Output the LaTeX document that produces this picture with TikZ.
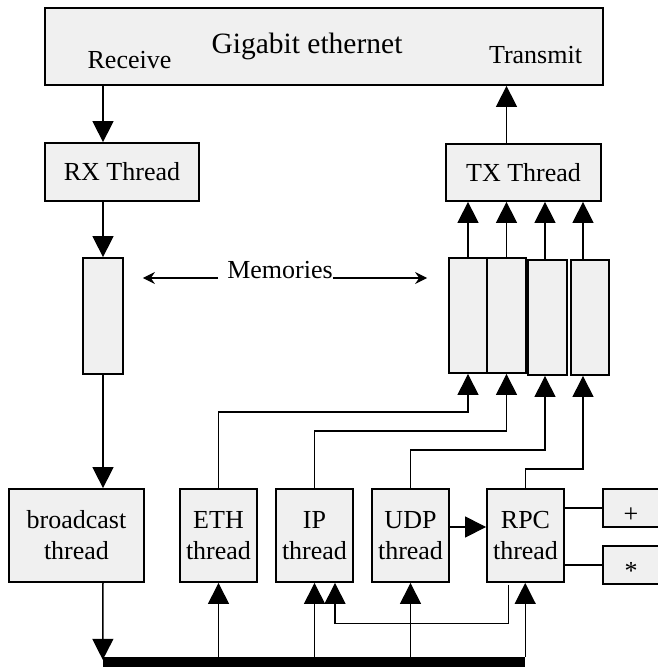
\documentclass[tikz,border=0pt]{standalone}
\usepackage{fontspec}
\setmainfont{Liberation Serif}
\usetikzlibrary{arrows.meta,calc}
\definecolor{boxfill}{RGB}{240,240,240}
\tikzset{
  box/.style={draw=black, line width=1.8pt, fill=boxfill, inner sep=0pt,
    font=\fontsize{26}{31}\selectfont, align=center},
  lbl/.style={inner sep=0pt, font=\fontsize{26}{31}\selectfont},
  big/.style={-{Triangle[length=21pt,width=21pt]}, line width=1.5pt},
  thinbig/.style={-{Triangle[length=21pt,width=21pt]}, line width=1.1pt},
  thin/.style={line width=1.1pt},
  marr/.style={-{Stealth[length=12pt,width=12pt,inset=4pt]}, line width=1.1pt}
}
\begin{document}
\begin{tikzpicture}[x=1pt,y=-1pt]
\useasboundingbox (0,0) rectangle (657,667);
% top box
\node[box, minimum width=558pt, minimum height=77pt] (gbe) at (324,46.5) {};
\node[lbl, anchor=base, font=\fontsize{29.5}{33}\selectfont] (title) at (307,53) {Gigabit ethernet};
\node[lbl, anchor=base] (recv) at (129.5,68) {Receive};
\node[lbl, anchor=base] (xmit) at (535.5,63) {Transmit};
% threads
\node[box, minimum width=154pt, minimum height=58pt] (rx) at (122,172) {RX Thread};
\node[box, minimum width=155pt, minimum height=57pt] (tx) at (523.5,172.5) {TX Thread};
% memories
\node[box, minimum width=40pt, minimum height=116pt] (memrx) at (103,316) {};
\node[box, minimum width=38pt, minimum height=115pt] (mem1) at (468,315.5) {};
\node[box, minimum width=39pt, minimum height=115pt] (mem2) at (506.5,315.5) {};
\node[box, minimum width=39pt, minimum height=115pt] (mem3) at (547.5,317.5) {};
\node[box, minimum width=38pt, minimum height=115pt] (mem4) at (590,317.5) {};
\coordinate (c3) at (545,0);
\coordinate (c4) at (583,0);
\node[lbl, anchor=base] (memtxt) at (280,278) {Memories};
% bottom row
\node[box, minimum width=135pt, minimum height=93pt] (bc) at (76.5,535.5) {broadcast\\thread};
\node[box, minimum width=77pt, minimum height=93pt] (ethT) at (218.5,535.5) {ETH\\thread};
\node[box, minimum width=77pt, minimum height=93pt] (ipT) at (314.5,535.5) {IP\\thread};
\node[box, minimum width=77pt, minimum height=93pt] (udpT) at (410.5,535.5) {UDP\\thread};
\node[box, minimum width=77pt, minimum height=93pt] (rpcT) at (525.5,535.5) {RPC\\thread};
\node[box, minimum width=56pt, minimum height=38pt, label={[lbl,yshift=-7pt]center:+}] (plus) at (631,508) {};
\node[box, minimum width=56pt, minimum height=38pt, label={[lbl,yshift=-6pt]center:*}] (star) at (631,565) {};
% bus
\node[fill=black, inner sep=0pt, minimum width=422pt, minimum height=10pt] (bus) at (314,662) {};
% receive path
\draw[big] (gbe.south -| memrx) -- (rx.north -| memrx);
\draw[big] (rx.south -| memrx) -- (memrx.north);
\draw[big] (memrx.south) -- (memrx.south |- bc.north);
\draw[big] (bc.south -| memrx) -- ($(bus.north west)+(0,3)$);
% transmit path
\draw[big] (tx.north -| mem2) -- (gbe.south -| mem2);
\draw[big] (mem1.north) -- (tx.south -| mem1);
\draw[big] (mem2.north) -- (tx.south -| mem2);
\draw[big] (mem3.north -| c3) -- (tx.south -| c3);
\draw[big] (mem4.north -| c4) -- (tx.south -| c4);
% memories label arrows
\draw[marr] ($(memtxt.base west)+(-9,0)$) -- ($(memrx.east |- memtxt.base)+(19,0)$);
\draw[marr] (memtxt.base east) -- ($(mem1.west |- memtxt.base)+(-21,0)$);
% thread outputs to memories
\draw[thinbig] (ethT.north) -- (ethT.north |- 0,412) -| (mem1.south);
\draw[thinbig] (ipT.north) -- (ipT.north |- 0,431) -| (mem2.south);
\draw[thinbig] (udpT.north) -- (udpT.north |- 0,450) -| (mem3.south -| c3);
\draw[thinbig] (rpcT.north) -- (rpcT.north |- 0,469) -| (mem4.south -| c4);
% bus risers
\draw[thinbig] (bus.north -| ethT) -- (ethT.south);
\draw[thinbig] (bus.north -| ipT) -- (ipT.south);
\draw[thinbig] (bus.north -| udpT) -- (udpT.south);
\draw[thinbig] (bus.north east) -- (rpcT.south -| bus.north east);
% RPC back to IP
\draw[thinbig] ($(rpcT.south)+(-17,2)$) -- ($(rpcT.south)+(-17,41)$) -| ($(ipT.south)+(20.5,0)$);
% UDP to RPC
\draw[thinbig] ($(udpT.east)+(0,-8.5)$) -- ($(rpcT.west)+(0,-8.5)$);
% RPC to operators
\draw[thin] (rpcT.east |- plus) -- (plus.west);
\draw[thin] (rpcT.east |- star) -- (star.west);
\end{tikzpicture}
\end{document}
